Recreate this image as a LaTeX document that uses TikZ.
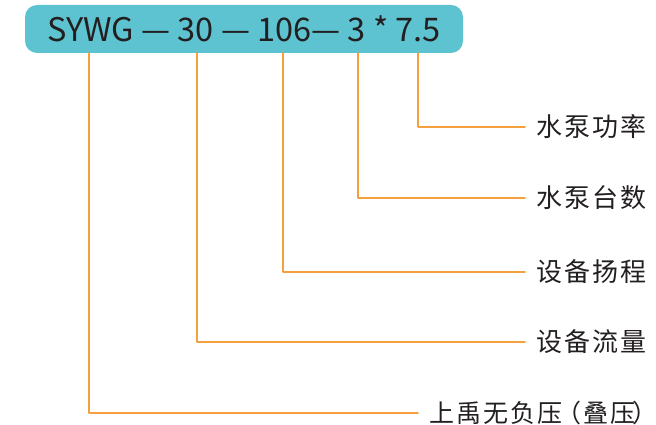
\documentclass[tikz,border=0pt]{standalone}
\usepackage{fontspec}
\setmainfont{Noto Sans CJK SC}
\newfontfamily\lblfont[LetterSpace=8]{Noto Sans CJK SC}
\usetikzlibrary{positioning}
\definecolor{boxblue}{HTML}{5EC3D1}
\definecolor{leadorange}{HTML}{F5A03E}
\definecolor{inkgray}{HTML}{231F20}
\tikzset{
  codebox/.style={fill=boxblue,rounded corners=12pt,minimum width=438pt,minimum height=48pt,inner sep=0pt,text=inkgray,font=\fontsize{32.5}{36}\selectfont},
  lbl/.style={anchor=west,inner sep=0pt,text=inkgray,font=\lblfont\fontsize{26}{28}\selectfont},
  lead/.style={draw=leadorange,line width=1.5pt}
}
\begin{document}
\begin{tikzpicture}[line cap=round,line join=round,x=1pt,y=-1pt]
\useasboundingbox (0,0) rectangle (656,425);
\node[codebox] (code) at (244,29) {SYWG — 30 — 106— 3 * 7.5};
% start points under the code
\coordinate (p1) at (89,53);
\coordinate (p2) at (197,53);
\coordinate (p3) at (283,53);
\coordinate (p4) at (358,53);
\coordinate (p5) at (418,53);
% labels
\node[lbl] (power) at (536,127) {水泵功率};
\node[lbl] (count) at (536,198) {水泵台数};
\node[lbl] (head) at (536,272) {设备扬程};
\node[lbl] (flow) at (536,342) {设备流量};
\node[lbl,font=\lblfont\fontsize{25}{28}\selectfont] (brand) at (429,413) {上禹无负压\hspace{-6pt}（叠压\hspace{-3pt}）\hspace{-20pt}};
% leaders
\draw[lead] (p5) |- ([xshift=-11pt]power.west);
\draw[lead] (p4) |- ([xshift=-11pt]count.west);
\draw[lead] (p3) |- ([xshift=-11pt]head.west);
\draw[lead] (p2) |- ([xshift=-11pt]flow.west);
\draw[lead] (p1) |- ([xshift=-11pt]brand.west);
\end{tikzpicture}
\end{document}
